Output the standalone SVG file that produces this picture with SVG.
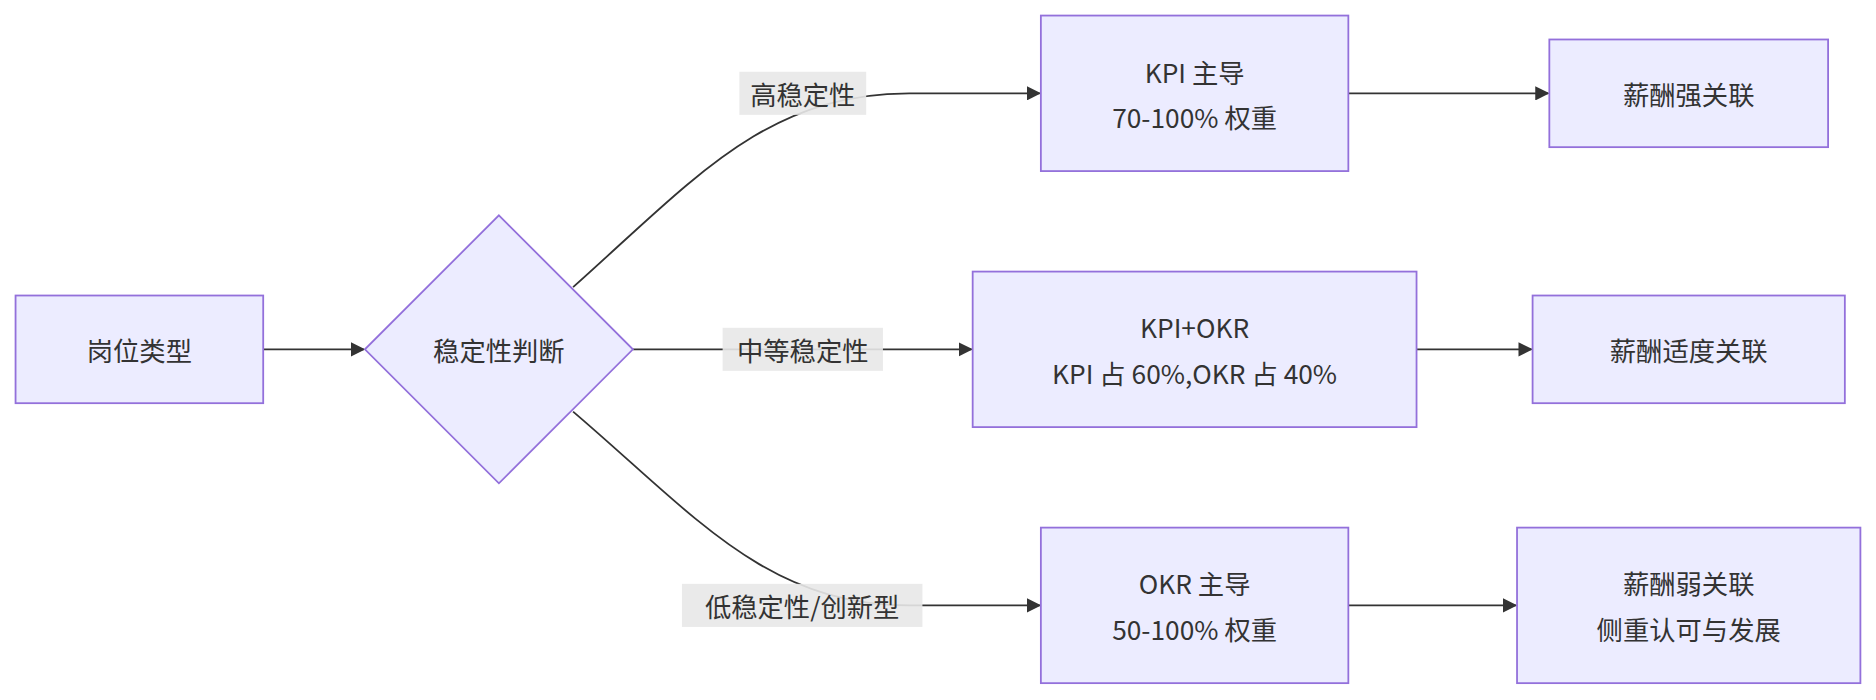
<svg xmlns="http://www.w3.org/2000/svg" width="1876" height="700" viewBox="0 0 1876 700">
<style>
.n{fill:#ECECFF;stroke:#9370DB;stroke-width:1.5}
.t{font-family:"Noto Sans CJK SC","Noto Sans",sans-serif;font-size:22px;fill:#333;text-anchor:middle;dominant-baseline:central}
.e{fill:none;stroke:#333;stroke-width:1.5;marker-end:url(#a)}
.lb{fill:#E8E8E8;opacity:0.9}
</style>
<defs><marker id="a" viewBox="0 0 10 10" refX="9" refY="5" markerWidth="8" markerHeight="8" orient="auto"><path d="M0,0L10,5L0,10z" fill="#333"/></marker></defs>
<rect width="1876" height="700" fill="#fff"/>
<g transform="scale(1.1964)">
<g id="edges">
<path class="e" d="M220,292L304,292"/>
<path class="e" d="M479,240C580,150 640,78 760,78L869,78"/>
<path class="e" d="M529,292L812,292"/>
<path class="e" d="M479,344C580,430 640,506 760,506L869,506"/>
<path class="e" d="M1127,78L1294,78"/>
<path class="e" d="M1184,292L1280,292"/>
<path class="e" d="M1127,506L1267,506"/>
<rect class="lb" x="618" y="60" width="106" height="36"/><text class="t" x="671" y="78">高稳定性</text>
<rect class="lb" x="604" y="274" width="134" height="36"/><text class="t" x="671" y="292">中等稳定性</text>
<rect class="lb" x="570" y="488" width="201" height="36"/><text class="t" x="670.5" y="506">低稳定性/创新型</text>
</g>
<g id="n1"><rect class="n" x="13" y="247" width="207" height="90"/><text class="t" x="116.5" y="292">岗位类型</text></g>
<g id="n2"><path class="n" d="M417,180L529,292L417,404L305,292z"/><text class="t" x="417" y="292">稳定性判断</text></g>
<g id="n3"><rect class="n" x="870" y="13" width="257" height="130"/><text class="t" x="998.5" y="60">KPI 主导</text><text class="t" x="998.5" y="97">70-100% 权重</text></g>
<g id="n4"><rect class="n" x="813" y="227" width="371" height="130"/><text class="t" x="998.5" y="273">KPI+OKR</text><text class="t" x="998.5" y="311">KPI 占 60%,OKR 占 40%</text></g>
<g id="n5"><rect class="n" x="870" y="441" width="257" height="130"/><text class="t" x="998.5" y="487">OKR 主导</text><text class="t" x="998.5" y="525">50-100% 权重</text></g>
<g id="n6"><rect class="n" x="1295" y="33" width="233" height="90"/><text class="t" x="1411.5" y="78">薪酬强关联</text></g>
<g id="n7"><rect class="n" x="1281" y="247" width="261" height="90"/><text class="t" x="1411.5" y="292">薪酬适度关联</text></g>
<g id="n8"><rect class="n" x="1268" y="441" width="287" height="130"/><text class="t" x="1411.5" y="487">薪酬弱关联</text><text class="t" x="1411.5" y="525">侧重认可与发展</text></g>
</g>
</svg>
